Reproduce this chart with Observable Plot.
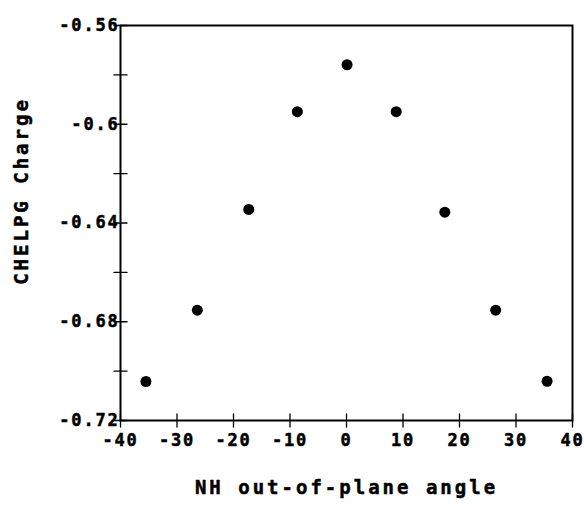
<!DOCTYPE html>
<html><head><meta charset="utf-8">
<script src="https://cdn.jsdelivr.net/npm/d3@7"></script>
<script src="https://cdn.jsdelivr.net/npm/@observablehq/plot@0.6"></script>
<style>body{margin:0;background:#fff} svg text{stroke:black;stroke-width:0.5px}</style>
</head><body><div id="chart"></div>
<script>
const angles = [-35.5, -26.4, -17.3, -8.7, 0.1, 8.8, 17.4, 26.4, 35.5];
const charges = [-0.7042, -0.6753, -0.6345, -0.5949, -0.5759, -0.5949, -0.6356, -0.6753, -0.7041];
const xTicks = [-40, -30, -20, -10, 0, 10, 20, 30, 40];
const xTickLabels = ["-40", "-30", "-20", "-10", "0", "10", "20", "30", "40"];
const yTicks = [-0.72, -0.68, -0.64, -0.6, -0.56];
const yTickLabels = ["-0.72", "-0.68", "-0.64", "-0.6", "-0.56"];
const yMinorTicks = [-0.70, -0.66, -0.62, -0.58];
const xLabel = "NH out-of-plane angle";
const yLabel = "CHELPG Charge";

const points = angles.map((a, i) => ({angle: a, charge: charges[i]}));
const yAllTicks = yTicks.concat(yMinorTicks);
const lineShape = {draw(ctx, l) { ctx.moveTo(0, 0); ctx.lineTo(0, -l); }};

const chart = Plot.plot({
  width: 584,
  height: 509,
  marginLeft: 120,
  marginRight: 12,
  marginTop: 25,
  marginBottom: 89,
  x: {domain: [-40, 40]},
  y: {domain: [-0.72, -0.56]},
  style: {fontFamily: "DejaVu Sans Mono", fontWeight: "bold", fontSize: "17px", color: "black", background: "white", letterSpacing: "1.8px"},
  marks: [
    Plot.frame({stroke: "black", strokeWidth: 2}),
    Plot.axisX(xTicks, {tickSize: 0, tickPadding: 13, tickFormat: d => xTickLabels[xTicks.indexOf(d)], label: null, fontSize: 17}),
    Plot.axisY(yTicks, {tickSize: 0, tickPadding: 1, tickFormat: d => yTickLabels[yTicks.indexOf(d)], label: null, fontSize: 17}),
    Plot.vector(xTicks, {x: d => d, y: () => -0.72, length: 13, rotate: 0, anchor: "middle", shape: lineShape, stroke: "black", strokeWidth: 1.3}),
    Plot.vector(yAllTicks, {x: () => -40, y: d => d, length: 13, rotate: 90, anchor: "middle", shape: lineShape, stroke: "black", strokeWidth: 1.3}),
    Plot.dot(points, {x: "angle", y: "charge", r: 5.5, fill: "black", stroke: "none"}),
    Plot.text([xLabel], {frameAnchor: "bottom", textAnchor: "middle", dy: 73, fontSize: 19, fill: "black"}),
    Plot.text([yLabel], {frameAnchor: "left", textAnchor: "middle", rotate: -90, dx: -99, dy: -32, fontSize: 19, fill: "black"})
  ]
});
document.getElementById("chart").appendChild(chart);
d3.select(chart).selectAll("text").filter(function() { return this.textContent === xLabel || this.textContent === yLabel; }).style("letter-spacing", "3px");
</script>
</body></html>
